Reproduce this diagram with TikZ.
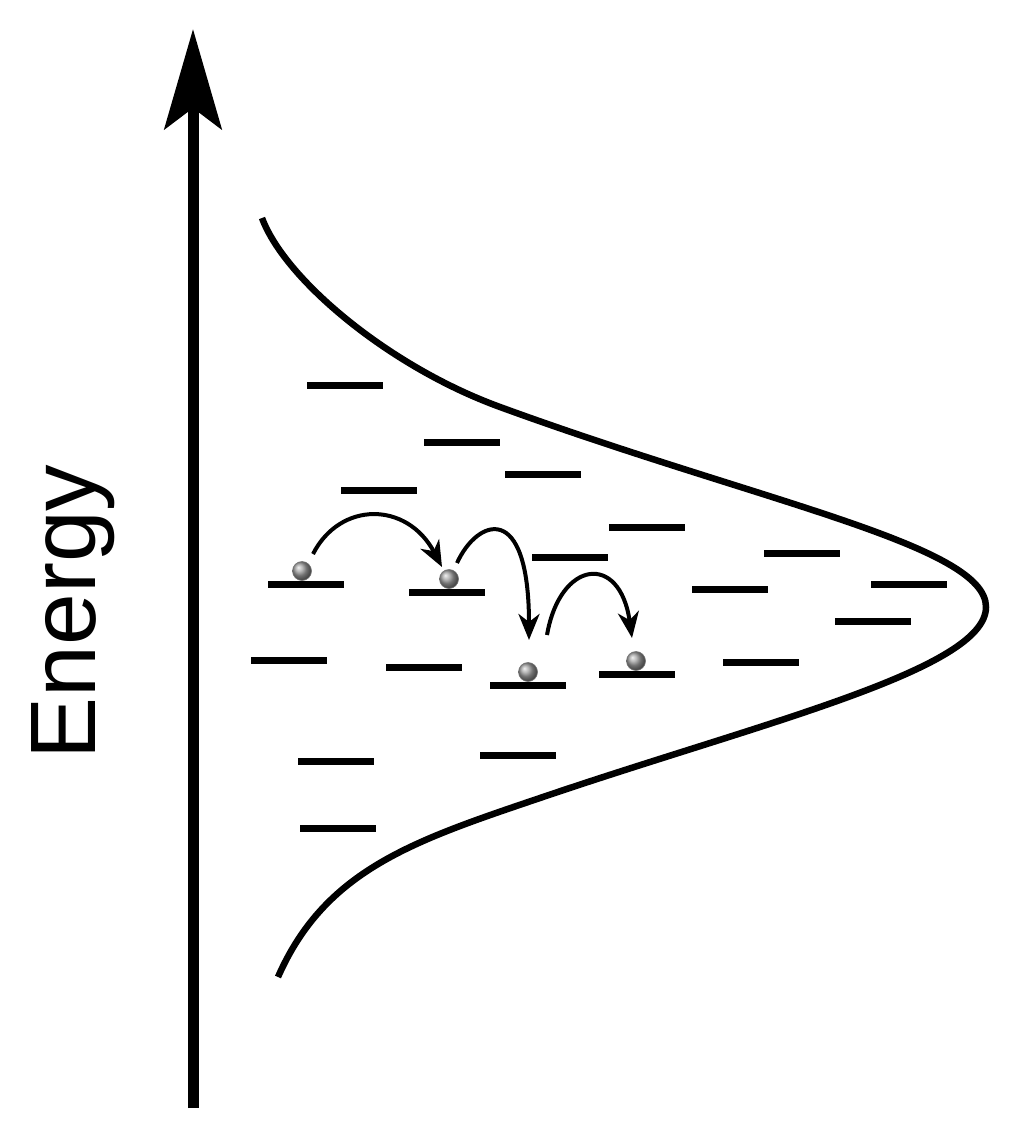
\documentclass[tikz,border=0pt]{standalone}
\usepackage{fontspec}
\setmainfont{Liberation Sans}
\usetikzlibrary{arrows.meta,calc}
\begin{document}
\begin{tikzpicture}[x=1pt,y=-1pt,
  level/.style={rectangle,fill=black,minimum width=76pt,minimum height=7pt,inner sep=0pt},
  ball/.style={circle,minimum size=19pt,inner sep=0pt,ball color=gray!75!white,draw=black!55,line width=0.6pt},
  hop/.style={line width=4pt,-{Stealth[length=26pt,width=21pt,inset=8pt]}},
  axis/.style={line width=11pt,-{Stealth[length=100pt,width=57pt,inset=21pt]}},
  curve/.style={line width=6.5pt,line join=round}]
\useasboundingbox (0,0) rectangle (1024,1139);
\fill[white] (0,0) rectangle (1024,1139);

% energy axis
\coordinate (axisbot) at (193,1108);
\coordinate (axistop) at (193,29);
\draw[axis] (axisbot) -- (axistop);
\node[rotate=90,anchor=base,inner sep=0pt,font=\fontsize{93}{100}\selectfont] (label) at (95,612) {Energy};

% density of states curve
\coordinate (ctop) at (262,218);
\coordinate (ctip) at (986,607);
\coordinate (cbot) at (278,977);
\draw[curve] (ctop) .. controls (285,280) and (390,367) .. (500,407)
  .. controls (760,502) and (986,545) .. (ctip)
  .. controls (986,670) and (760,723) .. (540,798)
  .. controls (413,841) and (325,870) .. (cbot);

% energy levels
\node[level] (l1)  at (345,385) {};
\node[level] (l2)  at (462,442) {};
\node[level] (l3)  at (543,474) {};
\node[level] (l4)  at (379,490) {};
\node[level] (l5)  at (647,527) {};
\node[level] (l6)  at (570,557) {};
\node[level] (l7)  at (802,553) {};
\node[level] (l8)  at (306,584) {};
\node[level] (l9)  at (447,592) {};
\node[level] (l10) at (730,589) {};
\node[level] (l11) at (909,584) {};
\node[level] (l12) at (873,621) {};
\node[level] (l13) at (289,660) {};
\node[level] (l14) at (424,667) {};
\node[level] (l15) at (528,685) {};
\node[level] (l16) at (637,674) {};
\node[level] (l17) at (761,662) {};
\node[level] (l18) at (518,755) {};
\node[level] (l19) at (336,761) {};
\node[level] (l20) at (338,828) {};

% charge carriers
\node[ball] (p1) at (302,571) {};
\node[ball] (p2) at (449,579) {};
\node[ball] (p3) at (528,672) {};
\node[ball] (p4) at (636,661) {};

% hops
\draw[hop] ($(p1)+(11,-17)$) .. controls ($(p1)+(38,-70)$) and ($(p1)+(105,-70)$) .. ($(p2)+(-7,-12)$);
\draw[hop] ($(p2)+(8,-16)$) .. controls ($(p2)+(28,-60)$) and ($(p2)+(80,-80)$) .. ($(p3)+(1,-32)$);
\draw[hop] ($(p3)+(19,-37)$) .. controls ($(p3)+(32,-112)$) and ($(p3)+(92,-120)$) .. ($(p4)+(-4,-23)$);
\end{tikzpicture}
\end{document}
